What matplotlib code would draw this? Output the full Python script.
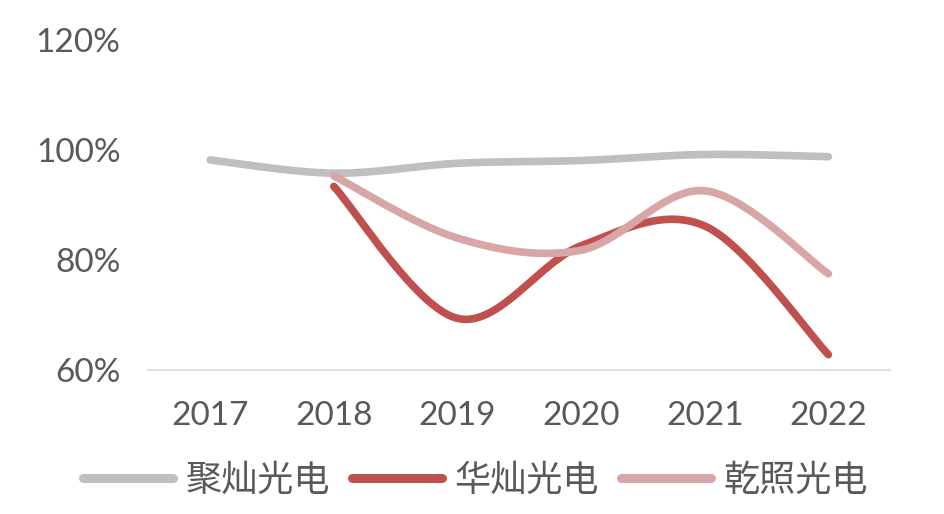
import numpy as np
import matplotlib.pyplot as plt
from matplotlib.ticker import PercentFormatter

years = ["2017", "2018", "2019", "2020", "2021", "2022"]
names = ["聚灿光电", "华灿光电", "乾照光电"]
jucan = [98.2, 95.8, 97.6, 98.1, 99.2, 98.8]
huacan = [None, 93.4, 69.4, 82.6, 86.2, 62.8]
qianzhao = [None, 95.3, 84.0, 81.8, 92.6, 77.5]
colors = ["#BFBFBF", "#C0504D", "#D9A6A7"]


def smooth(xs, ys, n=40):
    # Excel-like smoothed line: cubic bezier through the points
    pts = np.column_stack([xs, ys]).astype(float)
    out = []
    for i in range(len(pts) - 1):
        p0 = pts[max(i - 1, 0)]
        p1 = pts[i]
        p2 = pts[i + 1]
        p3 = pts[min(i + 2, len(pts) - 1)]
        c1 = p1 + (p2 - p0) / 6
        c2 = p2 - (p3 - p1) / 6
        t = np.linspace(0, 1, n)[:, None]
        seg = ((1 - t) ** 3) * p1 + 3 * ((1 - t) ** 2) * t * c1 + 3 * (1 - t) * t ** 2 * c2 + t ** 3 * p2
        out.append(seg if i == 0 else seg[1:])
    seg = np.vstack(out)
    return seg[:, 0], seg[:, 1]


fig = plt.figure(figsize=(9.45, 5.14), dpi=100)
ax = fig.add_axes([0.157, 0.28, 0.785, 0.642])

for name, vals, c in zip(names, [jucan, huacan, qianzhao], colors):
    xs = [i for i, v in enumerate(vals) if v is not None]
    ys = [v for v in vals if v is not None]
    sx, sy = smooth(xs, ys)
    ax.plot(sx, sy, color=c, lw=5.5, solid_capstyle="round", label=name)

ax.set_xlim(-0.5, len(years) - 0.5)
ax.set_ylim(60, 120)
ax.set_yticks([60, 80, 100, 120])
ax.yaxis.set_major_formatter(PercentFormatter(decimals=0))
ax.set_xticks(range(len(years)))
ax.set_xticklabels(years)

for s in ["top", "right", "left"]:
    ax.spines[s].set_visible(False)
ax.spines["bottom"].set_color("#D9D9D9")
ax.spines["bottom"].set_linewidth(1.2)
ax.tick_params(axis="both", length=0, labelsize=24, labelcolor="#595959")
ax.tick_params(axis="y", pad=20)
ax.tick_params(axis="x", pad=22)
for lab in ax.get_xticklabels() + ax.get_yticklabels():
    lab.set_family(["Lato", "DejaVu Sans"])

leg = fig.legend(loc="center", bbox_to_anchor=(0.503, 1 - 481 / 514), ncol=3,
                 frameon=False, prop={"family": ["Noto Sans CJK SC", "DejaVu Sans"], "size": 26},
                 handlelength=2.5, handletextpad=0.35, columnspacing=0.6)
for t in leg.get_texts():
    t.set_color("#595959")
for h in leg.get_lines():
    h.set_linewidth(6.5)

fig.savefig("out.png", dpi=100)
